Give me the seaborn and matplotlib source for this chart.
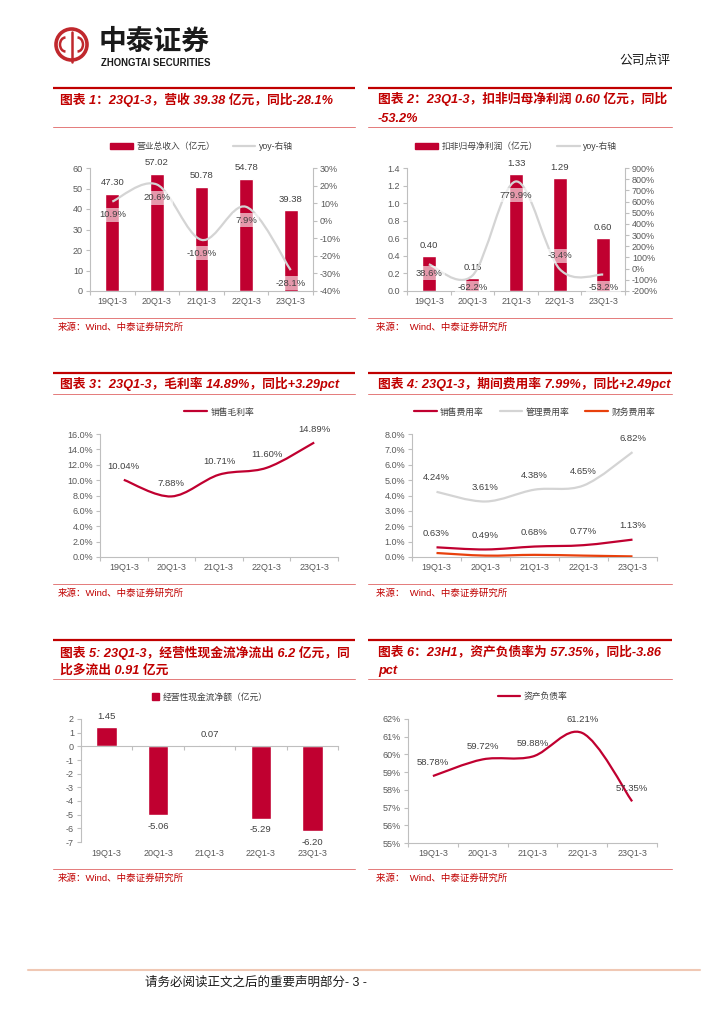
import numpy as np
import seaborn as sns
import matplotlib.pyplot as plt
from matplotlib.path import Path
from matplotlib.patches import PathPatch, Circle, Arc, Rectangle
from matplotlib.lines import Line2D
from matplotlib.ticker import FuncFormatter, MultipleLocator
from matplotlib.transforms import blended_transform_factory

# data
quarters = ['19Q1-3', '20Q1-3', '21Q1-3', '22Q1-3', '23Q1-3']
revenue = [47.30, 57.02, 50.78, 54.78, 39.38]
revenue_yoy = [10.9, 20.6, -10.9, 7.9, -28.1]
profit = [0.40, 0.15, 1.33, 1.29, 0.60]
profit_yoy = [38.6, -62.2, 779.9, -3.4, -53.2]
gross_margin = [10.04, 7.88, 10.71, 11.60, 14.89]
sales_rate = [0.63, 0.49, 0.68, 0.77, 1.13]
admin_rate = [4.24, 3.61, 4.38, 4.65, 6.82]
finance_rate = [0.26, 0.09, 0.14, 0.09, 0.04]
cash_flow = [1.45, -5.06, 0.07, -5.29, -6.20]
debt_ratio = [58.78, 59.72, 59.88, 61.21, 57.35]

RED = '#C00030'
GREY_LINE = '#D4D4D4'
ORANGE = '#E8400C'
TITLE_RED = '#C00000'
THIN_RED = '#E47A7A'
TICK = '#595959'
LABEL = '#404040'
SPINE = '#BFBFBF'
W, H = 724, 1024

sns.set_theme(style='white')
plt.rcParams['font.family'] = ['Liberation Sans', 'Noto Sans CJK SC']
plt.rcParams['axes.unicode_minus'] = False

fig = plt.figure(figsize=(7.24, 10.24), dpi=100)


def box(l, t, r, b):
    return [l / W, 1 - b / H, (r - l) / W, (b - t) / H]


def smooth(ax, ys, color, lw):
    # excel-style smoothed line through the points (catmull-rom bezier)
    xs = np.arange(len(ys), dtype=float)
    ys = np.asarray(ys, dtype=float)
    n = len(ys)
    verts = [(xs[0], ys[0])]
    codes = [Path.MOVETO]
    for i in range(n - 1):
        a = max(i - 1, 0)
        d = min(i + 2, n - 1)
        c1 = (xs[i] + (xs[i + 1] - xs[a]) / 6, ys[i] + (ys[i + 1] - ys[a]) / 6)
        c2 = (xs[i + 1] - (xs[d] - xs[i]) / 6, ys[i + 1] - (ys[d] - ys[i]) / 6)
        verts += [c1, c2, (xs[i + 1], ys[i + 1])]
        codes += [Path.CURVE4] * 3
    ax.add_patch(PathPatch(Path(verts, codes), fill=False, edgecolor=color,
                           lw=lw, zorder=3, capstyle='butt'))


def fmt(pattern):
    return FuncFormatter(lambda v, p: pattern.format(round(v, 6) + 0.0))


def style_axes(ax, ylim, step, pattern):
    ax.set_xlim(-0.5, 4.5)
    ax.set_ylim(*ylim)
    ax.yaxis.set_major_locator(MultipleLocator(step))
    ax.yaxis.set_major_formatter(fmt(pattern))
    ax.set_xticks(range(5))
    ax.set_xticklabels(quarters)
    ax.set_xticks(np.arange(-0.5, 5, 1), minor=True)
    ax.tick_params(axis='x', which='major', length=0, pad=4.5, labelsize=6.5, labelcolor=TICK)
    ax.tick_params(axis='x', which='minor', length=3, color=SPINE, width=0.8, direction='out', bottom=True)
    ax.tick_params(axis='y', length=3, color=SPINE, width=0.8, direction='out', left=True,
                   labelsize=6.5, labelcolor=TICK, pad=2)
    for s in ['top', 'right']:
        ax.spines[s].set_visible(False)
    for s in ['left', 'bottom']:
        ax.spines[s].set_color(SPINE)
        ax.spines[s].set_linewidth(0.8)
    ax.set_xlabel('')
    ax.set_ylabel('')
    ax.grid(False)


def style_right(axr, ylim, step, pattern):
    axr.set_ylim(*ylim)
    axr.yaxis.set_major_locator(MultipleLocator(step))
    axr.yaxis.set_major_formatter(fmt(pattern))
    axr.tick_params(axis='y', length=3, color=SPINE, width=0.8, direction='out', right=True,
                    labelsize=6.5, labelcolor=TICK, pad=2)
    for s in ['top', 'left', 'bottom']:
        axr.spines[s].set_visible(False)
    axr.spines['right'].set_color(SPINE)
    axr.spines['right'].set_linewidth(0.8)
    axr.grid(False)


def put_labels(ax, vals, texts, offsets, box_labels=False):
    for i, (v, t, off) in enumerate(zip(vals, texts, offsets)):
        kw = {}
        if box_labels:
            kw['bbox'] = dict(boxstyle='square,pad=0.25', fc='white', ec='none', alpha=0.6)
        ax.annotate(t, (i, v), xytext=(0, off), textcoords='offset points',
                    ha='center', va='center', fontsize=6.8, color=LABEL, zorder=5, **kw)


def legend(ax, handles, labels, ncol, spacing=2.0, hl=2.6, hh=0.7):
    ax.legend(handles, labels, loc='center', bbox_to_anchor=(0.5, 1 + 22 / 123), ncol=ncol,
              frameon=False, fontsize=6.3, handlelength=hl, handleheight=hh,
              columnspacing=spacing, handletextpad=0.4, labelcolor=LABEL, borderaxespad=0)


# ---------- chart 1: revenue ----------
ax1 = fig.add_axes(box(90, 168, 313, 291))
sns.barplot(x=quarters, y=revenue, color=RED, saturation=1, width=0.31, ax=ax1)
style_axes(ax1, (0, 60), 10, '{:.0f}')
put_labels(ax1, revenue, [f'{v:.2f}' for v in revenue], [8] * 5)
ax1r = ax1.twinx()
style_right(ax1r, (-40, 30), 10, '{:.0f}%')
smooth(ax1r, revenue_yoy, GREY_LINE, 1.6)
put_labels(ax1r, revenue_yoy, [f'{v:.1f}%' for v in revenue_yoy], [-9.5] * 5, box_labels=True)
legend(ax1, [Rectangle((0, 0), 1, 1, color=RED), Line2D([], [], color=GREY_LINE, lw=1.6)],
       ['营业总收入（亿元）', 'yoy-右轴'], 2)

# ---------- chart 2: net profit ex. non-recurring ----------
ax2 = fig.add_axes(box(407, 168, 625, 291))
sns.barplot(x=quarters, y=profit, color=RED, saturation=1, width=0.32, ax=ax2)
style_axes(ax2, (0, 1.4), 0.2, '{:.1f}')
put_labels(ax2, profit, [f'{v:.2f}' for v in profit], [7.5] * 5)
ax2r = ax2.twinx()
style_right(ax2r, (-200, 900), 100, '{:.0f}%')
smooth(ax2r, profit_yoy, GREY_LINE, 1.6)
put_labels(ax2r, profit_yoy, [f'{v:.1f}%' for v in profit_yoy],
           [-6.5, -8.5, -10, 9.5, -9.5], box_labels=True)
legend(ax2, [Rectangle((0, 0), 1, 1, color=RED), Line2D([], [], color=GREY_LINE, lw=1.6)],
       ['扣非归母净利润（亿元）', 'yoy-右轴'], 2, spacing=2.2)

# ---------- chart 3: gross margin ----------
ax3 = fig.add_axes(box(100, 434, 338, 557))
style_axes(ax3, (0, 16), 2, '{:.1f}%')
smooth(ax3, gross_margin, RED, 1.6)
put_labels(ax3, gross_margin, [f'{v:.2f}%' for v in gross_margin], [9.5] * 5)
legend(ax3, [Line2D([], [], color=RED, lw=1.6)], ['销售毛利率'], 1)

# ---------- chart 4: expense ratios ----------
ax4 = fig.add_axes(box(412, 434, 657, 557))
style_axes(ax4, (0, 8), 1, '{:.1f}%')
smooth(ax4, admin_rate, GREY_LINE, 1.6)
smooth(ax4, finance_rate, ORANGE, 1.6)
smooth(ax4, sales_rate, RED, 1.6)
put_labels(ax4, admin_rate, [f'{v:.2f}%' for v in admin_rate], [10] * 5)
put_labels(ax4, sales_rate, [f'{v:.2f}%' for v in sales_rate], [10] * 5)
legend(ax4, [Line2D([], [], color=RED, lw=1.6), Line2D([], [], color=GREY_LINE, lw=1.6),
             Line2D([], [], color=ORANGE, lw=1.6)],
       ['销售费用率', '管理费用率', '财务费用率'], 3, spacing=1.8)

# ---------- chart 5: operating cash flow ----------
ax5 = fig.add_axes(box(81, 719, 338, 842))
sns.barplot(x=quarters, y=cash_flow, color=RED, saturation=1, width=0.4, ax=ax5)
style_axes(ax5, (-7, 2), 1, '{:.0f}')
ax5.spines['bottom'].set_position(('data', 0))
ax5.tick_params(axis='x', which='major', labelbottom=False)
trans = blended_transform_factory(ax5.transData, ax5.transAxes)
for i, q in enumerate(quarters):
    ax5.text(i, -0.095, q, transform=trans, ha='center', va='center', fontsize=6.5, color=TICK)
put_labels(ax5, cash_flow, [f'{v:.2f}' for v in cash_flow],
           [7.5 if v > 0 else -8 for v in cash_flow])
legend(ax5, [Rectangle((0, 0), 1, 1, color=RED)], ['经营性现金流净额（亿元）'], 1, hl=0.8, hh=0.8)

# ---------- chart 6: debt ratio ----------
ax6 = fig.add_axes(box(408, 719, 657, 843))
style_axes(ax6, (55, 62), 1, '{:.0f}%')
smooth(ax6, debt_ratio, RED, 1.6)
put_labels(ax6, debt_ratio, [f'{v:.2f}%' for v in debt_ratio], [9.5] * 5)
legend(ax6, [Line2D([], [], color=RED, lw=1.6)], ['资产负债率'], 1)

# ---------- page furniture ----------
ov = fig.add_axes([0, 0, 1, 1], zorder=-1)
ov.set_xlim(0, W)
ov.set_ylim(H, 0)
ov.axis('off')

# logo
ov.add_patch(Circle((71.5, 44.5), 15.5, fill=False, ec='#C0282D', lw=2.6))
ov.plot([71.5, 71.5], [32, 62], color='#C0282D', lw=1.8)
ov.add_patch(Arc((65.5, 44.5), 11, 14, theta1=90, theta2=270, ec='#C0282D', lw=1.8))
ov.add_patch(Arc((77.5, 44.5), 11, 14, theta1=-90, theta2=90, ec='#C0282D', lw=1.8))
ov.text(99, 42.5, '中泰证券', fontsize=20, fontweight='bold', color='#1A1A1A', va='center', ha='left')
ov.text(101, 62.5, 'ZHONGTAI SECURITIES', fontsize=6.9, fontweight='bold', color='#1A1A1A',
        va='center', ha='left')
ov.text(670, 61, '公司点评', fontsize=9.2, color='#1A1A1A', va='center', ha='right')


def frame(x0, x1, tx, y_thick, titles, y_thin, y_src_line, src):
    ov.plot([x0, x1], [y_thick] * 2, color=TITLE_RED, lw=1.6, solid_capstyle='butt')
    for y, t in titles:
        ov.text(tx, y, t, fontsize=9.2, fontweight='bold', fontstyle='italic', color=TITLE_RED,
                va='center', ha='left')
    ov.plot([x0, x1], [y_thin] * 2, color=THIN_RED, lw=0.7)
    ov.plot([x0, x1], [y_src_line] * 2, color=THIN_RED, lw=0.7)
    ov.text(tx - 2, y_src_line + 9, src, fontsize=6.8, color=TITLE_RED, va='center', ha='left')


frame(53, 355, 60, 88, [(100, '图表 1：23Q1-3，营收 39.38 亿元，同比-28.1%')], 127, 318,
      '来源：Wind、中泰证券研究所')
frame(368, 672, 378, 88, [(99, '图表 2：23Q1-3，扣非归母净利润 0.60 亿元，同比'), (119, '-53.2%')],
      127, 318, '来源：  Wind、中泰证券研究所')
frame(53, 355, 60, 373, [(384, '图表 3：23Q1-3，毛利率 14.89%，同比+3.29pct')], 394, 584,
      '来源：Wind、中泰证券研究所')
frame(368, 672, 378, 373, [(384, '图表 4: 23Q1-3，期间费用率 7.99%，同比+2.49pct')], 394, 584,
      '来源：  Wind、中泰证券研究所')
frame(53, 355, 60, 640, [(653, '图表 5: 23Q1-3，经营性现金流净流出 6.2 亿元，同'),
                         (671, '比多流出 0.91 亿元')], 679, 869, '来源：Wind、中泰证券研究所')
frame(368, 672, 378, 640, [(652, '图表 6：23H1，资产负债率为 57.35%，同比-3.86'), (671, 'pct')],
      679, 869, '来源：  Wind、中泰证券研究所')

ov.plot([28, 700], [970, 970], color='#F0C8B4', lw=1.5)
ov.text(145, 983, '请务必阅读正文之后的重要声明部分- 3 -', fontsize=9, color='#1A1A1A',
        va='center', ha='left')

fig.savefig('out.png', dpi=100)
